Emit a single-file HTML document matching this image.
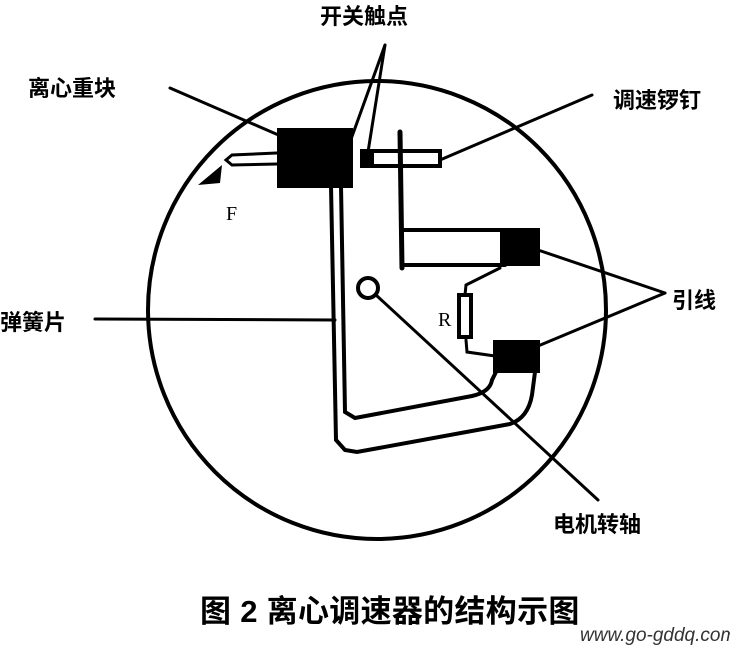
<!DOCTYPE html>
<html><head><meta charset="utf-8"><style>
body{margin:0;background:#fff;width:730px;height:648px;overflow:hidden}
svg{display:block}
text{font-family:"Liberation Sans","Noto Sans CJK SC",sans-serif;fill:#000}
</style></head><body>
<svg width="730" height="648" viewBox="0 0 730 648" xmlns="http://www.w3.org/2000/svg">
<g stroke="#000" fill="none" stroke-linecap="round">
<circle cx="377" cy="310" r="229" stroke-width="4"/>
<line x1="170" y1="88" x2="290" y2="140" stroke-width="3"/>
<line x1="385" y1="45" x2="350" y2="142" stroke-width="3"/>
<line x1="385" y1="45" x2="368" y2="152" stroke-width="3"/>
<line x1="592" y1="95" x2="440" y2="160" stroke-width="3"/>
<line x1="95" y1="319" x2="335" y2="320" stroke-width="3"/>
<line x1="665" y1="293" x2="538" y2="250" stroke-width="3"/>
<line x1="665" y1="293" x2="538" y2="346" stroke-width="3"/>
<line x1="376" y1="295" x2="598" y2="500" stroke-width="3"/>
<path d="M277 153 L232 155 L226 160 L232 165 L277 164" stroke-width="3"/>
<path d="M331 186 L336 440 L345 450 L357 452 L510 424 Q528 418 532 395 L535 372" stroke-width="4"/>
<path d="M341 186 L345 412 L355 418 L472 396 Q490 392 492 380 L497 370" stroke-width="4"/>
<rect x="362" y="151" width="78" height="15" stroke-width="4"/>
<line x1="400" y1="132" x2="402" y2="268" stroke-width="5"/>
<path d="M402 230 L505 230 M402 265 L505 265" stroke-width="4"/>
<path d="M500 268 L466 285 L465 295" stroke-width="3"/>
<path d="M466 340 L467 352 L495 356" stroke-width="3"/>
<rect x="459" y="295" width="12" height="42" stroke-width="4"/>
<circle cx="368" cy="288" r="10" stroke-width="4"/>
</g>
<rect x="277" y="128" width="76" height="60" fill="#000"/>
<rect x="362" y="151" width="12" height="15" fill="#000"/>
<rect x="500" y="228" width="40" height="38" fill="#000"/>
<rect x="493" y="340" width="47" height="33" fill="#000"/>
<path d="M222 165 L198 185 L220 183 Z" fill="#000"/>
<text x="226" y="220" font-size="20" style="font-family:'Liberation Serif',serif">F</text>
<text x="438" y="326" font-size="20" style="font-family:'Liberation Serif',serif">R</text>
<g font-size="22" font-weight="bold">
<text x="320" y="24">开关触点</text>
<text x="28" y="96">离心重块</text>
<text x="613" y="108">调速锣钉</text>
<text x="0" y="330">弹簧片</text>
<text x="672" y="308">引线</text>
<text x="553" y="532">电机转轴</text>
</g>
<text x="200" y="622" font-size="31" font-weight="bold" letter-spacing="0.3">图 2 离心调速器的结构示图</text>
<text x="580" y="641" font-size="19" font-style="italic" style="fill:#333">www.go-gddq.com</text>
</svg>
</body></html>
